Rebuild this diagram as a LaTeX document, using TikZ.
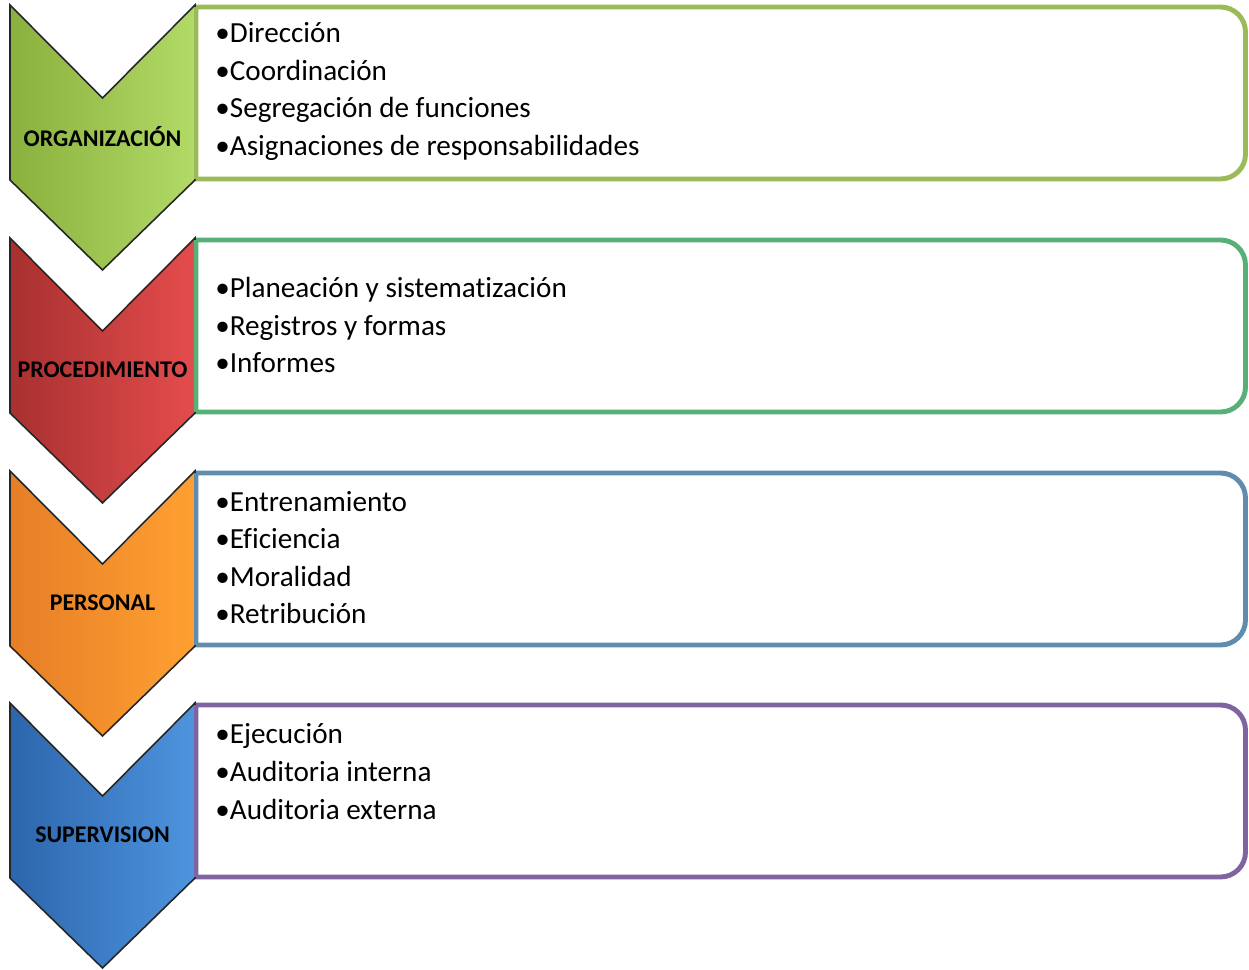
\documentclass[tikz,border=0pt]{standalone}
\usepackage{fontspec}
\setmainfont{Carlito}[Ligatures=CommonOff]
\definecolor{orgdark}{RGB}{138,176,62}
\definecolor{orglight}{RGB}{178,218,102}
\definecolor{orgline}{RGB}{155,187,89}
\definecolor{procdark}{RGB}{168,48,48}
\definecolor{proclight}{RGB}{228,76,76}
\definecolor{procline}{RGB}{87,176,120}
\definecolor{persdark}{RGB}{230,126,38}
\definecolor{perslight}{RGB}{255,160,50}
\definecolor{persline}{RGB}{96,140,174}
\definecolor{supdark}{RGB}{44,102,172}
\definecolor{suplight}{RGB}{78,148,222}
\definecolor{supline}{RGB}{128,100,162}
\tikzset{
  stage/.style={draw=black!85, line width=0.9pt, line join=miter},
  stagelabel/.style={font=\fontsize{13.6}{16}\selectfont\bfseries, inner sep=0pt},
  itembox/.style={line width=2.8pt, fill=white},
  itemlist/.style={font=\fontsize{16.6}{21.4}\selectfont, align=left, anchor=west, inner sep=0pt},
}

\begin{document}
\begin{tikzpicture}[x=0.02cm, y=0.02cm]
  \useasboundingbox (0,0) rectangle (1249,-970);

  % chevrons and boxes
  \foreach \t/\name/\lbl/\lc/\rc/\bc in {
    5/org/ORGANIZACIÓN/orgdark/orglight/orgline,
    238/proc/PROCEDIMIENTO/procdark/proclight/procline,
    471/pers/PERSONAL/persdark/perslight/persline,
    703/sup/SUPERVISION/supdark/suplight/supline} {
    \draw [itembox, draw=\bc] (196,-\t-2) -- (1220.5,-\t-2)
      arc [start angle=90, end angle=0, radius=0.5cm]
      -- (1245.5,-\t-149) arc [start angle=0, end angle=-90, radius=0.5cm]
      -- (196,-\t-174) -- cycle;
    \draw [stage, left color=\lc, right color=\rc] (10,-\t) -- (102.5,-\t-93) -- (195,-\t)
      -- (195,-\t-175) -- (102.5,-\t-265) -- (10,-\t-175) -- cycle;
    \draw [itembox, draw=\bc, fill=none] (196,-\t-2) -- (196,-\t-174);
    \node [stagelabel] (\name) at (102.5,-\t-132) {\lbl};
  }

  % lists
  \node [itemlist] (orglist) at (215,-91.5) {\textbullet Dirección\\ \textbullet Coordinación\\
    \textbullet Segregación de funciones\\ \textbullet Asignaciones de responsabilidades};
  \node [itemlist] (proclist) at (215,-325) {\textbullet Planeación y sistematización\\
    \textbullet Registros y formas\\ \textbullet Informes};
  \node [itemlist] (perslist) at (215,-557.5) {\textbullet Entrenamiento\\ \textbullet Eficiencia\\
    \textbullet Moralidad\\ \textbullet Retribución};
  \node [itemlist] (suplist) at (215,-771.5) {\textbullet Ejecución\\ \textbullet Auditoria interna\\
    \textbullet Auditoria externa};
\end{tikzpicture}
\end{document}
